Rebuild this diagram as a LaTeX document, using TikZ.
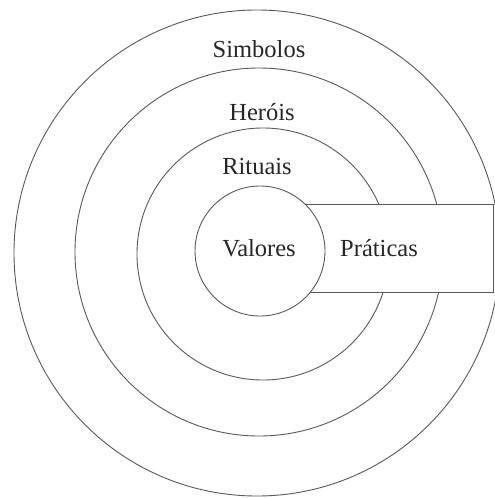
\documentclass[tikz,border=0pt]{standalone}
\usepackage{fontspec}
\setmainfont{Liberation Serif}
\begin{document}
\begin{tikzpicture}[x=1pt,y=-1pt,
  ring/.style={draw=black!65,line width=0.9pt},
  lbl/.style={font=\fontsize{24.5}{28}\selectfont,text=black!85,inner sep=0pt}]
\useasboundingbox (0,0) rectangle (495,498);
\clip (0,0) rectangle (495,498);
\fill[white] (0,0) rectangle (495,498);
\draw[ring] (257,253) circle[radius=243];
\draw[ring] (259,252) circle[radius=184];
\draw[ring] (263,254) circle[radius=126];
\draw[ring,fill=white] (260,204) rectangle (493,292);
\draw[ring,fill=white] (260,251) circle[radius=65];
\node[lbl] (simb) at (259,49) {Simbolos};
\node[lbl] (her) at (262,112) {Heróis};
\node[lbl] (rit) at (257,167) {Rituais};
\node[lbl] (val) at (259,248) {Valores};
\node[lbl] (prat) at (379,248) {Práticas};
\end{tikzpicture}
\end{document}
